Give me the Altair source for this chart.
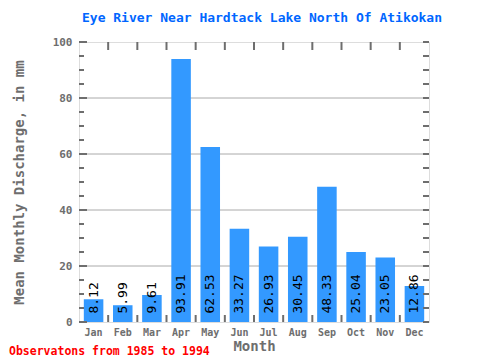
import altair as alt
import pandas as pd

months = ["Jan", "Feb", "Mar", "Apr", "May", "Jun", "Jul", "Aug", "Sep", "Oct", "Nov", "Dec"]
values = [8.12, 5.99, 9.61, 93.91, 62.53, 33.27, 26.93, 30.45, 48.33, 25.04, 23.05, 12.86]
grid_values = [20, 40, 60, 80]
major_ticks = [0, 20, 40, 60, 80, 100]
minor_ticks = [5, 10, 15, 25, 30, 35, 45, 50, 55, 65, 70, 75, 85, 90, 95]

FONT = "DejaVu Sans Mono"
GRAY = "#6e6e6e"
W, H = 350, 280

df = pd.DataFrame({"Month": months, "Value": values, "Label": [f"{v:.2f}" for v in values]})
xscale = alt.Scale(domain=months, paddingInner=0, paddingOuter=0)
yscale = alt.Scale(domain=[0, 100], nice=False)

x_enc = alt.X("Month:N", sort=months, scale=xscale,
              axis=alt.Axis(title="Month", labelAngle=0, ticks=False, domain=False,
                            labelFont=FONT, labelFontSize=10, labelFontWeight="bold",
                            labelColor=GRAY, labelPadding=5,
                            titleFont=FONT, titleFontSize=14, titleFontWeight="bold",
                            titleColor=GRAY, titlePadding=2))
y_enc = alt.Y("Value:Q", scale=yscale,
              axis=alt.Axis(title="Mean Monthly Discharge, in mm", values=major_ticks,
                            ticks=False, domain=False, grid=False,
                            labelFont=FONT, labelFontSize=11, labelFontWeight="bold",
                            labelColor=GRAY, labelPadding=7,
                            titleFont=FONT, titleFontSize=14, titleFontWeight="bold",
                            titleColor=GRAY, titlePadding=26))

base = alt.Chart(df)

grid = alt.Chart(pd.DataFrame({"g": grid_values})).mark_rule(color="#aaaaaa", strokeWidth=1).encode(
    y=alt.Y("g:Q", scale=yscale), x=alt.value(0), x2=alt.value(W))

bars = base.mark_bar(color="#3399ff", width=alt.RelativeBandSize(0.67)).encode(x=x_enc, y=y_enc)

labels = base.transform_calculate(lab_y="3").mark_text(
    angle=270, align="left", baseline="middle",
    font=FONT, fontSize=13, color="black").encode(
    x=alt.X("Month:N", sort=months, scale=xscale),
    y=alt.Y("lab_y:Q", scale=yscale),
    text="Label:N")

tdf_major = pd.DataFrame({"t": major_ticks})
tdf_minor = pd.DataFrame({"t": minor_ticks})
tick_style = dict(color=GRAY, strokeWidth=2)
lmaj = alt.Chart(tdf_major).mark_rule(**tick_style).encode(
    y=alt.Y("t:Q", scale=yscale), x=alt.value(0), x2=alt.value(8))
lmin = alt.Chart(tdf_minor).mark_rule(**tick_style).encode(
    y=alt.Y("t:Q", scale=yscale), x=alt.value(0), x2=alt.value(5))
rmaj = alt.Chart(tdf_major).mark_rule(**tick_style).encode(
    y=alt.Y("t:Q", scale=yscale), x=alt.value(W), x2=alt.value(W - 6))
rmin = alt.Chart(tdf_minor).mark_rule(**tick_style).encode(
    y=alt.Y("t:Q", scale=yscale), x=alt.value(W), x2=alt.value(W - 6))

bdf = pd.DataFrame({"Month": months[1:]})
top_ticks = alt.Chart(bdf).mark_rule(**tick_style).encode(
    x=alt.X("Month:N", sort=months, scale=xscale, bandPosition=0),
    y=alt.value(0), y2=alt.value(8))
bot_ticks = alt.Chart(bdf).mark_rule(**tick_style).encode(
    x=alt.X("Month:N", sort=months, scale=xscale, bandPosition=0),
    y=alt.value(H), y2=alt.value(H - 7))

footer = alt.Chart(pd.DataFrame({"f": ["Observatons from 1985 to 1994"]})).mark_text(
    align="left", baseline="middle", font=FONT, fontSize=11.5, fontWeight="bold", color="red").encode(
    text="f:N", x=alt.value(-70), y=alt.value(H + 30))

chart = alt.layer(grid, bars, labels, lmaj, lmin, rmaj, rmin, top_ticks, bot_ticks, footer).properties(
    width=W, height=H,
    title=alt.TitleParams("Eye River Near Hardtack Lake North Of Atikokan", font=FONT, fontSize=13,
                          fontWeight="bold", color="#0066ff", offset=11, anchor="middle", dx=8),
    autosize=alt.AutoSizeParams(type="none"),
    padding={"left": 71, "top": 34, "right": 43, "bottom": 38},
).configure_view(stroke=GRAY, strokeWidth=2).configure(background="white")

chart.save("out.html", embed_options={"renderer": "svg", "actions": False})
